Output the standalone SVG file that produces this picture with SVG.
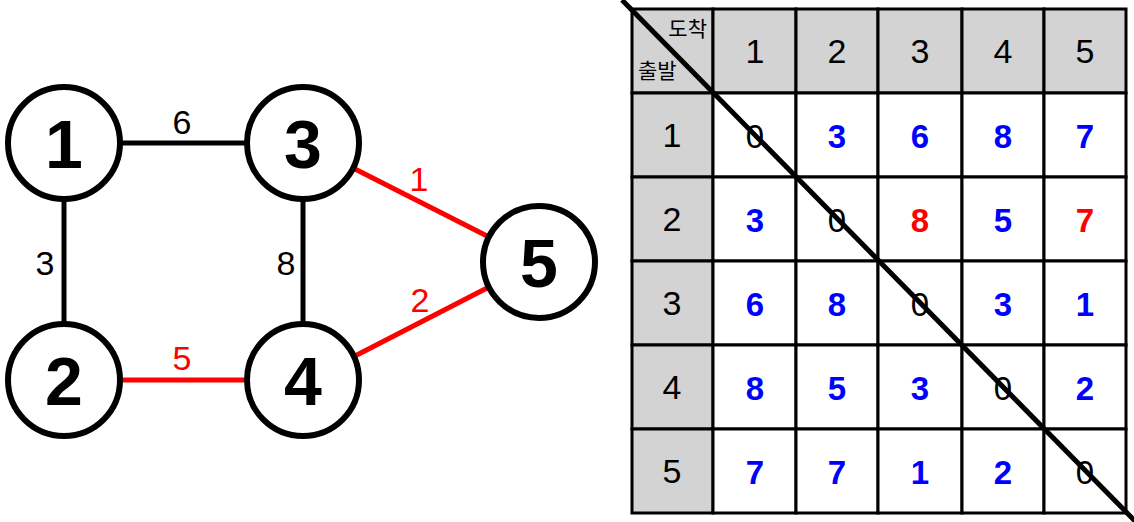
<svg xmlns="http://www.w3.org/2000/svg" width="1134" height="522" viewBox="0 0 1134 522">
<style>
.node circle{fill:#fff;stroke:#000;stroke-width:6}
.node text{font-family:"Liberation Sans",Arial,sans-serif;font-weight:bold;font-size:68px;text-anchor:middle;fill:#000}
.edge{stroke-width:5;fill:none}
.blk{stroke:#000}
.red{stroke:#f00}
.lbl{font-family:"Liberation Sans",Arial,sans-serif;font-size:34px;text-anchor:middle}
.hd{fill:#d3d3d3;stroke:#000;stroke-width:3}
.cell{fill:#fff;stroke:#000;stroke-width:3}
.ht{font-family:"Liberation Sans",Arial,sans-serif;font-size:34px;text-anchor:middle;fill:#000}
.v{font-family:"Liberation Sans",Arial,sans-serif;font-size:33px;font-weight:bold;text-anchor:middle;fill:#00f}
.vr{fill:#f00}
.z{font-family:"Liberation Sans",Arial,sans-serif;font-size:33px;text-anchor:middle;fill:#000}
.kr{font-family:"Liberation Sans","Noto Sans CJK KR",sans-serif;font-size:21px;fill:#000}
</style>
<rect width="1134" height="522" fill="#fff"/>
<g id="connectors">
<line class="edge blk" x1="120" y1="143" x2="247" y2="143"/>
<line class="edge blk" x1="64" y1="199" x2="64" y2="324"/>
<line class="edge blk" x1="303" y1="199" x2="303" y2="324"/>
<line class="edge red" x1="120" y1="380" x2="247" y2="380"/>
<line class="edge red" x1="353" y1="168" x2="489" y2="237"/>
<line class="edge red" x1="353" y1="357" x2="489" y2="287"/>
<text class="lbl" x="182" y="134" fill="#000">6</text>
<text class="lbl" x="45" y="275" fill="#000">3</text>
<text class="lbl" x="286" y="275" fill="#000">8</text>
<text class="lbl" x="182" y="370" fill="#f00">5</text>
<text class="lbl" x="419" y="191" fill="#f00">1</text>
<text class="lbl" x="420" y="312" fill="#f00">2</text>
</g>
<g id="node1" class="node"><circle cx="64" cy="143" r="56"/><text x="64" y="168">1</text></g>
<g id="node3" class="node"><circle cx="303" cy="143" r="56"/><text x="303" y="168">3</text></g>
<g id="node2" class="node"><circle cx="64" cy="380" r="56"/><text x="64" y="405">2</text></g>
<g id="node4" class="node"><circle cx="303" cy="380" r="56"/><text x="303" y="405">4</text></g>
<g id="node5" class="node"><circle cx="539" cy="262" r="56"/><text x="539" y="287">5</text></g>
<g id="table">
<rect class="hd" x="632" y="9" width="81" height="84"/>
<rect class="hd" x="713" y="9" width="83" height="84"/>
<rect class="hd" x="796" y="9" width="82" height="84"/>
<rect class="hd" x="878" y="9" width="84" height="84"/>
<rect class="hd" x="962" y="9" width="82" height="84"/>
<rect class="hd" x="1044" y="9" width="82" height="84"/>
<rect class="hd" x="632" y="93" width="81" height="84"/>
<rect class="hd" x="632" y="177" width="81" height="84"/>
<rect class="hd" x="632" y="261" width="81" height="84"/>
<rect class="hd" x="632" y="345" width="81" height="84"/>
<rect class="hd" x="632" y="429" width="81" height="84"/>
<g class="cell">
<rect x="713" y="93" width="83" height="84"/><rect x="796" y="93" width="82" height="84"/><rect x="878" y="93" width="84" height="84"/><rect x="962" y="93" width="82" height="84"/><rect x="1044" y="93" width="82" height="84"/>
<rect x="713" y="177" width="83" height="84"/><rect x="796" y="177" width="82" height="84"/><rect x="878" y="177" width="84" height="84"/><rect x="962" y="177" width="82" height="84"/><rect x="1044" y="177" width="82" height="84"/>
<rect x="713" y="261" width="83" height="84"/><rect x="796" y="261" width="82" height="84"/><rect x="878" y="261" width="84" height="84"/><rect x="962" y="261" width="82" height="84"/><rect x="1044" y="261" width="82" height="84"/>
<rect x="713" y="345" width="83" height="84"/><rect x="796" y="345" width="82" height="84"/><rect x="878" y="345" width="84" height="84"/><rect x="962" y="345" width="82" height="84"/><rect x="1044" y="345" width="82" height="84"/>
<rect x="713" y="429" width="83" height="84"/><rect x="796" y="429" width="82" height="84"/><rect x="878" y="429" width="84" height="84"/><rect x="962" y="429" width="82" height="84"/><rect x="1044" y="429" width="82" height="84"/>
</g>
<text class="kr" x="707" y="36" text-anchor="end">도착</text>
<text class="kr" x="638" y="78">출발</text>
<text class="ht" x="755" y="63">1</text>
<text class="ht" x="837" y="63">2</text>
<text class="ht" x="920" y="63">3</text>
<text class="ht" x="1003" y="63">4</text>
<text class="ht" x="1085" y="63">5</text>
<text class="ht" x="672" y="147">1</text>
<text class="ht" x="672" y="231">2</text>
<text class="ht" x="672" y="315">3</text>
<text class="ht" x="672" y="399">4</text>
<text class="ht" x="672" y="483">5</text>
<text class="z" x="755" y="148">0</text><text class="v" x="837" y="148">3</text><text class="v" x="920" y="148">6</text><text class="v" x="1003" y="148">8</text><text class="v" x="1085" y="148">7</text>
<text class="v" x="755" y="232">3</text><text class="z" x="837" y="232">0</text><text class="v vr" x="920" y="232">8</text><text class="v" x="1003" y="232">5</text><text class="v vr" x="1085" y="232">7</text>
<text class="v" x="755" y="316">6</text><text class="v" x="837" y="316">8</text><text class="z" x="920" y="316">0</text><text class="v" x="1003" y="316">3</text><text class="v" x="1085" y="316">1</text>
<text class="v" x="755" y="400">8</text><text class="v" x="837" y="400">5</text><text class="v" x="920" y="400">3</text><text class="z" x="1003" y="400">0</text><text class="v" x="1085" y="400">2</text>
<text class="v" x="755" y="484">7</text><text class="v" x="837" y="484">7</text><text class="v" x="920" y="484">1</text><text class="v" x="1003" y="484">2</text><text class="z" x="1085" y="484">0</text>
<line x1="622" y1="0" x2="1136" y2="522" stroke="#000" stroke-width="5"/>
</g>
</svg>
